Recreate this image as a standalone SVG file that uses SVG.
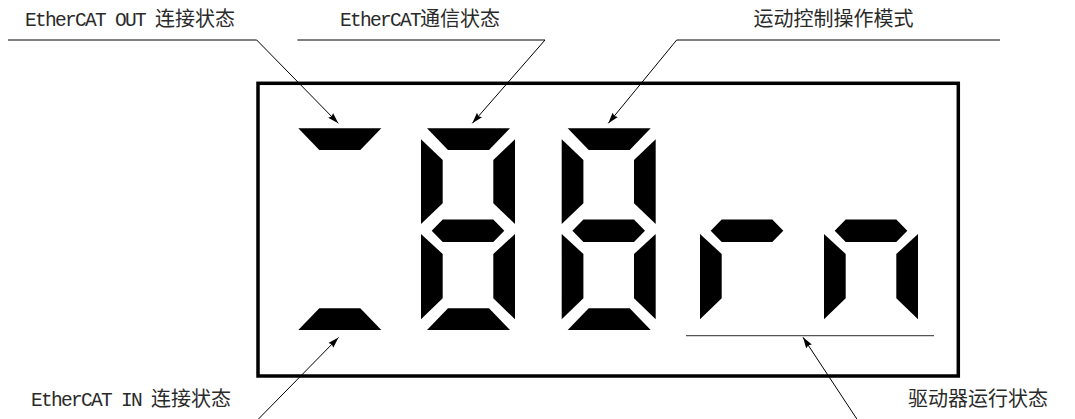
<svg xmlns="http://www.w3.org/2000/svg" xmlns:xlink="http://www.w3.org/1999/xlink" width="1075" height="419" viewBox="0 0 1075 419">
<style>
.lbl{font-family:"Noto Sans CJK SC","Liberation Sans",sans-serif;font-size:20px;fill:#2a2a2a}
.lat{font-family:"Liberation Mono","Noto Sans CJK SC",monospace;font-size:19.5px;letter-spacing:-1.7px}
.seg{fill:#000}
.conn{fill:none;stroke:#000;stroke-width:1}
.ul{stroke:#555;stroke-width:1.2}
</style>
<defs>
<marker id="ah" markerWidth="12" markerHeight="8" refX="11" refY="4" orient="auto" markerUnits="userSpaceOnUse">
<path d="M0,0.6 L11,4 L0,7.4 L1.5,4 z" fill="#000"/>
</marker>
<polygon id="sa" class="seg" points="6,128.3 89,128.3 68,150 27,150"/>
<polygon id="sf" class="seg" points="0,139.3 21.7,160 21.7,203.3 0,224"/>
<polygon id="sb" class="seg" points="94,139.3 72.3,160 72.3,203.3 94,224"/>
<polygon id="sg" class="seg" points="10.7,230.7 21.7,219.5 72.3,219.5 83.3,230.7 72.3,241.9 21.7,241.9"/>
<polygon id="se" class="seg" points="0,234 21.7,254 21.7,298.3 0,319.3"/>
<polygon id="sc" class="seg" points="94,234 72.3,254 72.3,298.3 94,319.3"/>
<polygon id="sd" class="seg" points="27,308.3 68,308.3 89,330 6,330"/>
</defs>

<g id="display">
<rect x="258" y="83.3" width="700.3" height="292.7" fill="none" stroke="#000" stroke-width="3.5"/>
</g>

<g id="digit1">
<use xlink:href="#sa" x="292.3"/>
<use xlink:href="#sd" x="292.3"/>
</g>
<g id="digit2">
<use xlink:href="#sa" x="421"/>
<use xlink:href="#sf" x="421"/>
<use xlink:href="#sb" x="421"/>
<use xlink:href="#sg" x="421"/>
<use xlink:href="#se" x="421"/>
<use xlink:href="#sc" x="421"/>
<use xlink:href="#sd" x="421"/>
</g>
<g id="digit3">
<use xlink:href="#sa" x="561.7"/>
<use xlink:href="#sf" x="561.7"/>
<use xlink:href="#sb" x="561.7"/>
<use xlink:href="#sg" x="561.7"/>
<use xlink:href="#se" x="561.7"/>
<use xlink:href="#sc" x="561.7"/>
<use xlink:href="#sd" x="561.7"/>
</g>
<g id="digit4-r">
<use xlink:href="#sg" x="700"/>
<use xlink:href="#se" x="700"/>
</g>
<g id="digit5-n">
<use xlink:href="#sg" x="824"/>
<use xlink:href="#se" x="824"/>
<use xlink:href="#sc" x="824"/>
</g>
<g id="run-underline">
<line class="ul" x1="686" y1="335.7" x2="934" y2="335.7"/>
</g>

<g id="label-out">
<text class="lbl" x="25" y="25.5"><tspan class="lat">EtherCAT OUT </tspan>连接状态</text>
</g>
<g id="label-comm">
<text class="lbl" x="340" y="25.5"><tspan class="lat">EtherCAT</tspan>通信状态</text>
</g>
<g id="label-mode">
<text class="lbl" x="753.5" y="25.5">运动控制操作模式</text>
</g>
<g id="label-in">
<text class="lbl" x="31" y="405.5"><tspan class="lat">EtherCAT IN </tspan>连接状态</text>
</g>
<g id="label-run">
<text class="lbl" x="908" y="405.5">驱动器运行状态</text>
</g>

<g id="connectors">
<path class="conn" d="M8,40 H256.7 L338.3,123.3" marker-end="url(#ah)"/>
<path class="conn" d="M297.3,40 H545 L472.3,123.3" marker-end="url(#ah)"/>
<path class="conn" d="M1000,40 H676.7 L608.3,123.3" marker-end="url(#ah)"/>
<path class="conn" d="M257.5,420 L338.5,337.5" marker-end="url(#ah)"/>
<path class="conn" d="M857.5,420 L803,337.3" marker-end="url(#ah)"/>
</g>
</svg>
